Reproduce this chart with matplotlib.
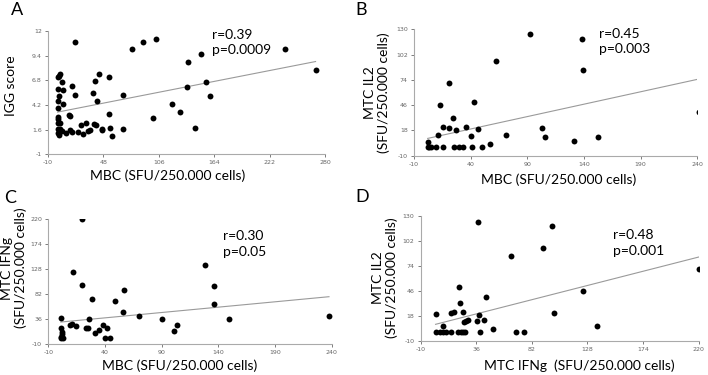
import numpy as np
import matplotlib
matplotlib.use("Agg")
import matplotlib.pyplot as plt

# ---- data ----
# A: MBC vs IGG score
a_x = [18, 78, 89.5, 102.5, 136, 150, 238, 270, 155, 135, 160, 120, 128, 100, 144,
       69, 68.5, 57, 55, 54, 54, 43, 39.6, 36.8, 41.3, 37.9, 40, 46.5, 46, 33.7,
       32.3, 29.8, 24.6, 26.6, 21.4, 18, 15.1, 11.7, 12.8, 13.5, 15.5, 9.3, 5.7, 6,
       1.5, 2.2, 1.2, 0.5, 0, 0, 0, 0, 0, 2.8, 0, 2.8, 0, 0, 1.2, 4.3, 4.5]
a_y = [10.9, 10.1, 10.9, 11.2, 8.7, 9.55, 10.1, 7.9, 6.6, 6.1, 5.1, 4.3, 3.4, 2.8, 1.8,
       5.3, 1.7, 0.9, 1.8, 3.2, 7.1, 7.5, 6.7, 5.5, 4.6, 2.2, 2.1, 1.7, 1.5, 1.5,
       1.4, 2.3, 2.1, 1.1, 1.35, 5.2, 6.2, 3.1, 3.0, 1.6, 1.3, 1.25, 4.3, 5.8,
       5.1, 7.5, 7.3, 7.1, 5.9, 4.6, 3.9, 2.9, 2.7, 2.3, 2.3, 1.7, 1.7, 1.2, 1.0, 6.6, 1.4]
a_fit = (0.0198, 3.44)

# B: MBC vs MTC IL2
b_x = [2.1, 3.5, 5.3, 9.1, 15.6, 25.3, 29.4, 32.9, 40.9, 50.3,
       2.1, 57.4, 11.2, 15.6, 20.9, 27.4, 35.6, 40, 46.2, 24.4, 12.9, 42.9, 21.2,
       62, 92.6, 138.5, 139, 241, 103.2, 105.9, 71.5, 130.9, 152.6]
b_y = [0, 0, 0, 0, 0, 0, 0, 0, 0, 0,
       5.5, 3, 12.9, 21.8, 21, 18.1, 22.1, 11.4, 19.9, 31.4, 45.8, 49.8, 70,
       95, 124.5, 119.3, 85.3, 38.8, 21, 10.7, 12.9, 5.9, 11.1]
b_fit = (0.275, 8.5)

# C: MBC vs MTC IFNg
c_x = [20, 11.8, 19.7, 28.6, 48.8, 56.8, 55.6, 69.8, 90.6, 101, 103.3, 128.3, 135.9,
       136.5, 149.7, 237.6, 1.3, 26.2, 1.3, 2.0, 2.5, 1.6, 3.0, 1.0, 9.1, 10.6,
       14.5, 23.3, 25, 31, 34.4, 38.7, 41.6, 39.6, 44.8]
c_y = [219.4, 122.5, 98.5, 73.7, 68.2, 89.3, 48.8, 40.6, 36, 13, 24.3, 134.5, 97,
       62.7, 35.3, 42, 37.5, 36, 19.4, 12.6, 8.3, 3.4, 0.4, 0.4, 25.5, 26.1,
       22.5, 20, 20, 9.3, 15.7, 24.6, 20, 0.7, 0.7]
c_fit = (0.197, 30.2)

# D: MTC IFNg vs MTC IL2
d_x = [2.4, 6.3, 8.7, 10.7, 14.8, 21.1, 23.1, 24.7, 26.9, 39.3, 69.3, 75.4,
       37.7, 98.3, 91.4, 64.4, 220, 123.9, 43.7, 22, 22.5, 2.4, 15, 17.6, 24.7,
       38.2, 100.2, 42.3, 36.8, 26, 27.3, 29, 8.7, 50, 135.5]
d_y = [0, 0, 0, 0, 0, 0, 0, 0, 0, 0, 0, 0,
       123.3, 118.1, 94.2, 84.8, 69.9, 45.6, 38.9, 50.1, 31.8, 20.3, 21.4, 22.2, 22.2,
       19.1, 21.4, 13.2, 12, 11.3, 12.5, 13.2, 6.1, 3.5, 6.4]
d_fit = (0.3465, 7.5)

panels = [
    # letter, x, y, fit, xticks, yticks, rect, stats text, stats pos
    ("A", a_x, a_y, a_fit, [-10, 48, 106, 164, 222, 280], [-1, 1.6, 4.2, 6.8, 9.4, 12],
     [0.0678, 0.589, 0.3914, 0.328], "r=0.39\np=0.0009", (0.592, 1.02)),
    ("B", b_x, b_y, b_fit, [-10, 40, 90, 140, 190, 240], [-10, 18, 46, 74, 102, 130],
     [0.5847, 0.585, 0.4003, 0.337], "r=0.45\np=0.003", (0.653, 1.01)),
    ("C", c_x, c_y, c_fit, [-10, 40, 90, 140, 190, 240], [-10, 36, 82, 128, 174, 220],
     [0.0682, 0.0827, 0.4003, 0.3333], "r=0.30\np=0.05", (0.616, 0.91)),
    ("D", d_x, d_y, d_fit, [-10, 36, 82, 128, 174, 220], [-10, 18, 46, 74, 102, 130],
     [0.594, 0.0915, 0.393, 0.3333], "r=0.48\np=0.001", (0.691, 0.89)),
]

lab_font = "Lato"
fig = plt.figure(figsize=(7.08, 3.75), dpi=100)

for letter, xs, ys, fit, xt, yt, rect, stats, spos in panels:
    ax = fig.add_axes(rect)
    ax.scatter(xs, ys, s=18, color="black", zorder=3, linewidths=0)
    xx = np.array([min(xs), max(xs)])
    ax.plot(xx, fit[0] * xx + fit[1], color="#9a9a9a", lw=0.8, zorder=2)
    ax.set_xlim(xt[0], xt[-1])
    ax.set_ylim(yt[0], yt[-1])
    ax.set_xticks(xt)
    ax.set_yticks(yt)
    ax.set_xticklabels([str(v) for v in xt])
    ax.set_yticklabels([("%g" % v) for v in yt])
    ax.tick_params(labelsize=4.5, colors="#666666", length=2.5, width=0.6, pad=2)
    for s in ["top", "right"]:
        ax.spines[s].set_visible(False)
    for s in ["left", "bottom"]:
        ax.spines[s].set_color("#aaaaaa")
        ax.spines[s].set_linewidth(0.8)
    ax.text(spos[0], spos[1], stats, transform=ax.transAxes, fontsize=10,
            family=lab_font, va="top", ha="left", linespacing=1.35)

# panel letters
fig.text(11 / 708, 1 - 10 / 375, "A", fontsize=13, family=lab_font, va="center")
fig.text(355 / 708, 1 - 10 / 375, "B", fontsize=13, family=lab_font, va="center")
fig.text(4 / 708, 1 - 198 / 375, "C", fontsize=13, family=lab_font, va="center")
fig.text(355 / 708, 1 - 197 / 375, "D", fontsize=13, family=lab_font, va="center")

# axis labels
fig.text(168 / 708, 1 - 176 / 375, "MBC (SFU/250.000 cells)", fontsize=10,
         family=lab_font, ha="center", va="center")
fig.text(559 / 708, 1 - 180 / 375, "MBC (SFU/250.000 cells)", fontsize=10,
         family=lab_font, ha="center", va="center")
fig.text(180 / 708, 1 - 366 / 375, "MBC (SFU/250.000 cells)", fontsize=10,
         family=lab_font, ha="center", va="center")
fig.text(579 / 708, 1 - 366 / 375, "MTC IFNg  (SFU/250.000 cells)", fontsize=10,
         family=lab_font, ha="center", va="center")

fig.text(11 / 708, 1 - 86 / 375, "IGG score", fontsize=10, family=lab_font,
         rotation=90, ha="center", va="center")
fig.text(377 / 708, 1 - 93 / 375, "MTC IL2\n(SFU/250.000 cells)", fontsize=10,
         family=lab_font, rotation=90, ha="center", va="center", linespacing=1.1)
fig.text(14 / 708, 1 - 268 / 375, "MTC IFNg\n(SFU/250.000 cells)", fontsize=10,
         family=lab_font, rotation=90, ha="center", va="center", linespacing=1.1)
fig.text(385 / 708, 1 - 278 / 375, "MTC IL2\n(SFU/250.000 cells)", fontsize=10,
         family=lab_font, rotation=90, ha="center", va="center", linespacing=1.1)

fig.savefig("out.png", dpi=100)
